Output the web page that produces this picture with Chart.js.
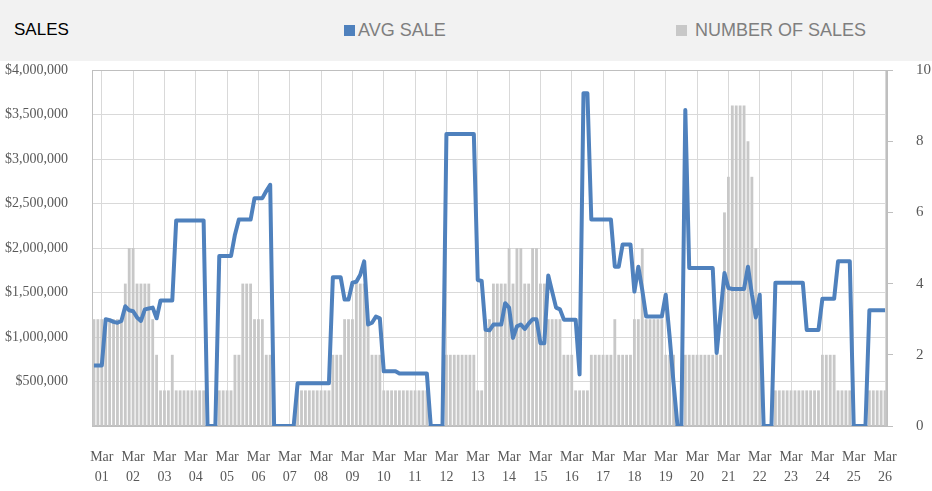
<!DOCTYPE html>
<html>
<head>
<meta charset="utf-8">
<title>Sales</title>
<script src="https://cdn.jsdelivr.net/npm/chart.js@4.4.1/dist/chart.umd.min.js"></script>
<style>
  body { margin: 0; background: #fff; }
  #wrap { position: relative; width: 932px; height: 491px; overflow: hidden; }
  #head { position: absolute; left: 0; top: 0; width: 932px; height: 61px; background: #f2f2f2;
          font-family: 'Liberation Sans', Arial, sans-serif; font-size: 18px; }
  #head span { position: absolute; top: 19px; line-height: 22px; white-space: nowrap; }
  #head .mark { position: absolute; top: 25px; width: 11px; height: 11px; }
  canvas { position: absolute; left: 0; top: 0; }
</style>
</head>
<body>
<div id="wrap">
  <div id="head">
    <span style="left:14px;color:#000;font-size:17px;">SALES</span>
    <div class="mark" style="left:344px;background:rgb(79,129,189);"></div>
    <span style="left:358px;color:#7f7f7f;">AVG SALE</span>
    <div class="mark" style="left:676px;background:rgb(200,200,200);"></div>
    <span style="left:695px;color:#7f7f7f;">NUMBER OF SALES</span>
  </div>
  <canvas id="chartSales" width="932" height="491"></canvas>
</div>
<script>
// one point every 3 hours, starting Feb 28 18:00
const days = ['Feb 28', 'Mar 01', 'Mar 02', 'Mar 03', 'Mar 04', 'Mar 05', 'Mar 06', 'Mar 07', 'Mar 08',
  'Mar 09', 'Mar 10', 'Mar 11', 'Mar 12', 'Mar 13', 'Mar 14', 'Mar 15', 'Mar 16', 'Mar 17', 'Mar 18',
  'Mar 19', 'Mar 20', 'Mar 21', 'Mar 22', 'Mar 23', 'Mar 24', 'Mar 25', 'Mar 26'];
const hours = ['00:00', '03:00', '06:00', '09:00', '12:00', '15:00', '18:00', '21:00'];

const avgSale = [
  680000, 680000, 680000, 1200000, 1190000, 1170000, 1160000, 1180000,
  1345000, 1300000, 1290000, 1220000, 1180000, 1310000, 1320000, 1330000,
  1210000, 1410000, 1410000, 1410000, 1410000, 2310000, 2310000, 2310000,
  2310000, 2310000, 2310000, 2310000, 2310000, 0, 0, 0,
  1910000, 1910000, 1910000, 1910000, 2150000, 2320000, 2320000, 2320000,
  2320000, 2560000, 2560000, 2560000, 2640000, 2710000, 0, 0,
  0, 0, 0, 0, 480000, 480000, 480000, 480000,
  480000, 480000, 480000, 480000, 480000, 1670000, 1670000, 1670000,
  1420000, 1420000, 1610000, 1620000, 1700000, 1850000, 1140000, 1160000,
  1230000, 1210000, 615000, 615000, 615000, 615000, 590000, 590000,
  590000, 590000, 590000, 590000, 590000, 590000, 0, 0,
  0, 0, 3280000, 3280000, 3280000, 3280000, 3280000, 3280000,
  3280000, 3280000, 1640000, 1630000, 1080000, 1075000, 1140000, 1140000,
  1140000, 1380000, 1330000, 990000, 1120000, 1140000, 1090000, 1150000,
  1200000, 1200000, 930000, 930000, 1690000, 1510000, 1330000, 1310000,
  1195000, 1195000, 1195000, 1195000, 580000, 3740000, 3740000, 2320000,
  2320000, 2320000, 2320000, 2320000, 2320000, 1790000, 1790000, 2040000,
  2040000, 2040000, 1510000, 1790000, 1530000, 1230000, 1230000, 1230000,
  1230000, 1230000, 1475000, 1000000, 480000, 0, 0, 3550000,
  1775000, 1775000, 1775000, 1775000, 1775000, 1775000, 1775000, 820000,
  1270000, 1720000, 1550000, 1540000, 1540000, 1540000, 1540000, 1790000,
  1480000, 1220000, 1475000, 0, 0, 0, 1610000, 1610000,
  1610000, 1610000, 1610000, 1610000, 1610000, 1610000, 1080000, 1080000,
  1080000, 1080000, 1430000, 1430000, 1430000, 1430000, 1850000, 1850000,
  1850000, 1850000, 0, 0, 0, 0, 1300000, 1300000,
  1300000, 1300000, 1300000
];

const numberOfSales = [
  3, 3, 3, 3, 3, 3, 3, 3,
  4, 5, 5, 4, 4, 4, 4, 3,
  2, 1, 1, 1, 2, 1, 1, 1,
  1, 1, 1, 1, 1, 0, 0, 0,
  1, 1, 1, 1, 2, 2, 4, 4,
  4, 3, 3, 3, 2, 2, 0, 0,
  0, 0, 0, 0, 1, 1, 1, 1,
  1, 1, 1, 1, 1, 2, 2, 2,
  3, 3, 3, 4, 4, 4, 3, 2,
  2, 2, 1, 1, 1, 1, 1, 1,
  1, 1, 1, 1, 1, 1, 0, 0,
  0, 0, 2, 2, 2, 2, 2, 2,
  2, 2, 1, 1, 3, 3, 4, 4,
  4, 4, 5, 4, 5, 5, 4, 4,
  5, 5, 4, 4, 3, 3, 3, 3,
  2, 2, 2, 1, 1, 1, 1, 2,
  2, 2, 2, 2, 2, 3, 2, 2,
  2, 2, 3, 3, 5, 3, 3, 3,
  3, 3, 2, 2, 2, 0, 0, 2,
  2, 2, 2, 2, 2, 2, 2, 2,
  2, 6, 7, 9, 9, 9, 9, 8,
  7, 5, 3, 0, 0, 0, 1, 1,
  1, 1, 1, 1, 1, 1, 1, 1,
  1, 1, 2, 2, 2, 2, 1, 1,
  1, 1, 0, 0, 0, 0, 1, 1,
  1, 1, 1
];

let labels = [];
for (let d = 0; d < days.length; d++) {
  for (let h = 0; h < hours.length; h++) {
    labels.push(days[d] + ' ' + hours[h]);
  }
}
labels = labels.slice(6, 6 + avgSale.length);

// marco gris alrededor del area de la grafica
const frame = {
  id: 'frame',
  beforeDatasetsDraw(chart) {
    const a = chart.chartArea;
    const ctx = chart.ctx;
    ctx.save();
    ctx.strokeStyle = '#bfbfbf';
    ctx.lineWidth = 1;
    ctx.strokeRect(Math.round(a.left) + 0.5, Math.round(a.top) + 0.5,
      Math.round(a.width) - 1, Math.round(a.height) - 1);
    ctx.restore();
  }
};

const serif = 'Liberation Serif, Times New Roman, serif';

new Chart(document.getElementById('chartSales'), {
  type: 'bar',
  data: {
    labels: labels,
    datasets: [
      {
        type: 'line',
        label: 'AVG SALE',
        data: avgSale,
        yAxisID: 'y',
        borderColor: 'rgb(79, 129, 189)',
        backgroundColor: 'rgb(79, 129, 189)',
        borderWidth: 4,
        borderJoinStyle: 'round',
        pointRadius: 0,
        tension: 0,
        order: 0
      },
      {
        type: 'bar',
        label: 'NUMBER OF SALES',
        data: numberOfSales,
        yAxisID: 'y1',
        backgroundColor: 'rgb(200, 200, 200)',
        categoryPercentage: 1,
        barPercentage: 0.72,
        order: 1
      }
    ]
  },
  options: {
    responsive: false,
    animation: false,
    layout: { padding: { top: 70 } },
    plugins: {
      legend: { display: false },
      tooltip: { enabled: false }
    },
    scales: {
      x: {
        offset: true,
        grid: {
          offset: false,
          drawTicks: false,
          color: (ctx) => (labels[ctx.index] || '').endsWith('00:00') ? '#d9d9d9' : 'rgba(0,0,0,0)'
        },
        border: { color: '#bfbfbf' },
        ticks: {
          autoSkip: false,
          maxRotation: 0,
          minRotation: 0,
          padding: 22,
          color: '#595959',
          font: { family: serif, size: 14, lineHeight: 1.4 },
          callback: function(value) {
            const parts = this.getLabelForValue(value).split(' ');
            return parts[2] === '00:00' ? [parts[0], parts[1]] : '';
          }
        },
        afterFit: (scale) => { scale.height = 65; }
      },
      y: {
        position: 'left',
        min: 0,
        max: 4000000,
        grid: { color: '#d9d9d9', drawTicks: false },
        border: { color: '#bfbfbf' },
        ticks: {
          stepSize: 500000,
          padding: 24,
          color: '#595959',
          font: { family: serif, size: 14 },
          callback: (v) => v === 0 ? '' : '$' + v.toLocaleString('en-US')
        },
        afterFit: (scale) => { scale.width = 92; }
      },
      y1: {
        position: 'right',
        min: 0,
        max: 10,
        grid: { drawOnChartArea: false, tickLength: 6, tickColor: '#bfbfbf' },
        border: { color: '#bfbfbf' },
        ticks: {
          stepSize: 2,
          padding: 23,
          color: '#595959',
          font: { family: serif, size: 15 }
        },
        afterFit: (scale) => { scale.width = 45; }
      }
    }
  },
  plugins: [frame]
});
</script>
</body>
</html>
